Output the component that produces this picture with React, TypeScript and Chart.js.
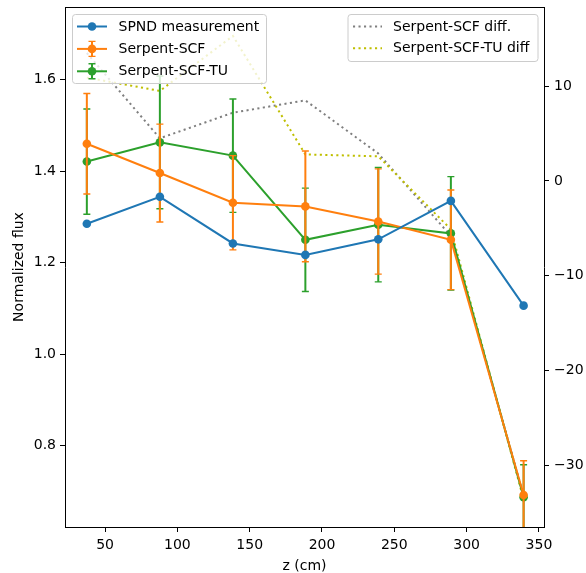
import React, { useEffect, useRef } from "react";
import { Chart, registerables } from "chart.js";

Chart.register(...registerables);

// ---- data ----
const zPositions = [37.4, 87.9, 138.4, 188.5, 238.9, 289.1, 339.4];
const spndMeasurement = [1.285, 1.344, 1.242, 1.217, 1.251, 1.335, 1.106];
const serpentScf = [1.46, 1.396, 1.331, 1.323, 1.29, 1.25, 0.692];
const serpentScfErr = [0.11, 0.107, 0.103, 0.121, 0.115, 0.109, 0.075];
const serpentScfTu = [1.421, 1.463, 1.434, 1.25, 1.283, 1.264, 0.687];
const serpentScfTuErr = [0.115, 0.145, 0.124, 0.113, 0.125, 0.124, 0.071];
const serpentScfDiff = [13.5, 4.5, 7.2, 8.5, 2.9, -5.8, -33.2];
const serpentScfTuDiff = [10.9, 9.5, 15.3, 2.8, 2.6, -5.1, -33.6];

const xTickValues = [50, 100, 150, 200, 250, 300, 350];
const leftTickValues = [0.8, 1.0, 1.2, 1.4, 1.6];
const rightTickValues = [-30, -20, -10, 0, 10];

const xLabel = "z (cm)";
const yLabel = "Normalized flux";

const FONT = "'DejaVu Sans', 'Liberation Sans', sans-serif";

const pts = (ys: number[]) => ys.map((y, i) => ({ x: zPositions[i], y }));

const errorBarPlugin = {
  id: "errorBars",
  beforeDatasetDraw(chart: any, args: any) {
    const ds = chart.data.datasets[args.index];
    if (!ds.errors) return;
    const xs = chart.scales.x;
    const ys = chart.scales[ds.yAxisID || "y"];
    const ctx = chart.ctx;
    const a = chart.chartArea;
    ctx.save();
    ctx.beginPath();
    ctx.rect(a.left, a.top, a.right - a.left, a.bottom - a.top);
    ctx.clip();
    ctx.strokeStyle = ds.borderColor;
    ds.data.forEach((p: any, i: number) => {
      const e = ds.errors[i];
      const px = xs.getPixelForValue(p.x);
      const y1 = ys.getPixelForValue(p.y - e);
      const y2 = ys.getPixelForValue(p.y + e);
      ctx.lineWidth = 2;
      ctx.beginPath();
      ctx.moveTo(px, y1);
      ctx.lineTo(px, y2);
      ctx.stroke();
      ctx.lineWidth = 1.4;
      ctx.beginPath();
      ctx.moveTo(px - 3.5, y1);
      ctx.lineTo(px + 3.5, y1);
      ctx.moveTo(px - 3.5, y2);
      ctx.lineTo(px + 3.5, y2);
      ctx.stroke();
    });
    ctx.restore();
  },
};

function roundRect(ctx: CanvasRenderingContext2D, x: number, y: number, w: number, h: number, r: number) {
  ctx.beginPath();
  ctx.moveTo(x + r, y);
  ctx.lineTo(x + w - r, y);
  ctx.quadraticCurveTo(x + w, y, x + w, y + r);
  ctx.lineTo(x + w, y + h - r);
  ctx.quadraticCurveTo(x + w, y + h, x + w - r, y + h);
  ctx.lineTo(x + r, y + h);
  ctx.quadraticCurveTo(x, y + h, x, y + h - r);
  ctx.lineTo(x, y + r);
  ctx.quadraticCurveTo(x, y, x + r, y);
  ctx.closePath();
}

const frameAndLegendPlugin = {
  id: "frameLegend",
  afterDatasetsDraw(chart: any) {
    const ctx = chart.ctx;
    const a = chart.chartArea;
    ctx.save();
    ctx.strokeStyle = "#000";
    ctx.lineWidth = 1;
    ctx.beginPath();
    ctx.moveTo(a.left, a.top + 0.5);
    ctx.lineTo(a.right, a.top + 0.5);
    ctx.stroke();
    ctx.restore();
  },
  afterDraw(chart: any) {
    const ctx = chart.ctx;
    const a = chart.chartArea;
    const dsets = chart.data.datasets;
    const drawBox = (x: number, y: number, w: number, h: number) => {
      ctx.save();
      roundRect(ctx, x, y, w, h, 3);
      ctx.fillStyle = "rgba(255,255,255,0.8)";
      ctx.fill();
      ctx.strokeStyle = "#cccccc";
      ctx.lineWidth = 1;
      ctx.stroke();
      ctx.restore();
    };
    const rowH = 22.4;
    // left legend
    const left = dsets.filter((d: any) => d.legendGroup === "left");
    const lx = a.left + 7.5;
    const ly = a.top + 7.5;
    drawBox(lx, ly, 194, 69);
    left.forEach((d: any, i: number) => {
      const cy = ly + 12 + i * rowH;
      ctx.save();
      ctx.strokeStyle = d.borderColor;
      ctx.lineWidth = 2;
      ctx.beginPath();
      ctx.moveTo(lx + 4.5, cy);
      ctx.lineTo(lx + 34.5, cy);
      ctx.stroke();
      if (d.errors) {
        ctx.beginPath();
        ctx.moveTo(lx + 19.5, cy - 7.5);
        ctx.lineTo(lx + 19.5, cy + 7.5);
        ctx.stroke();
        ctx.lineWidth = 1.4;
        ctx.beginPath();
        ctx.moveTo(lx + 16, cy - 7.5);
        ctx.lineTo(lx + 23, cy - 7.5);
        ctx.moveTo(lx + 16, cy + 7.5);
        ctx.lineTo(lx + 23, cy + 7.5);
        ctx.stroke();
      }
      ctx.fillStyle = d.borderColor;
      ctx.beginPath();
      ctx.arc(lx + 19.5, cy, 4.3, 0, Math.PI * 2);
      ctx.fill();
      ctx.fillStyle = "#000";
      ctx.font = `14px ${FONT}`;
      ctx.textBaseline = "middle";
      ctx.textAlign = "left";
      ctx.fillText(d.label, lx + 46, cy + 0.5);
      ctx.restore();
    });
    // right legend
    const right = dsets.filter((d: any) => d.legendGroup === "right");
    const rw = 190;
    const rx = a.right - 6 - rw;
    const ry = a.top + 7.5;
    drawBox(rx, ry, rw, 47);
    right.forEach((d: any, i: number) => {
      const cy = ry + 12 + i * 21.8;
      ctx.save();
      ctx.strokeStyle = d.borderColor;
      ctx.lineWidth = 2;
      ctx.setLineDash([2.1, 3.4]);
      ctx.lineCap = "butt";
      ctx.beginPath();
      ctx.moveTo(rx + 5, cy);
      ctx.lineTo(rx + 34, cy);
      ctx.stroke();
      ctx.setLineDash([]);
      ctx.fillStyle = "#000";
      ctx.font = `14px ${FONT}`;
      ctx.textBaseline = "middle";
      ctx.textAlign = "left";
      ctx.fillText(d.label, rx + 45, cy + 0.5);
      ctx.restore();
    });
  },
};

export default function App() {
  const canvasRef = useRef<HTMLCanvasElement | null>(null);

  useEffect(() => {
    if (!canvasRef.current) return;
    const axisCommon = {
      grid: { drawOnChartArea: false, drawTicks: true, tickLength: 5, tickColor: "#000", tickWidth: 1 },
      border: { display: true, color: "#000", width: 1 },
    };
    const chart = new Chart(canvasRef.current, {
      type: "line",
      data: {
        datasets: [
          {
            label: "SPND measurement",
            data: pts(spndMeasurement),
            borderColor: "#1f77b4",
            backgroundColor: "#1f77b4",
            borderWidth: 2,
            pointRadius: 4.3,
            pointBorderWidth: 0,
            yAxisID: "y",
            order: 0,
            legendGroup: "left",
          } as any,
          {
            label: "Serpent-SCF",
            data: pts(serpentScf),
            errors: serpentScfErr,
            borderColor: "#ff7f0e",
            backgroundColor: "#ff7f0e",
            borderWidth: 2,
            pointRadius: 4.3,
            pointBorderWidth: 0,
            yAxisID: "y",
            order: 1,
            legendGroup: "left",
          } as any,
          {
            label: "Serpent-SCF-TU",
            data: pts(serpentScfTu),
            errors: serpentScfTuErr,
            borderColor: "#2ca02c",
            backgroundColor: "#2ca02c",
            borderWidth: 2,
            pointRadius: 4.3,
            pointBorderWidth: 0,
            yAxisID: "y",
            order: 2,
            legendGroup: "left",
          } as any,
          {
            label: "Serpent-SCF diff.",
            data: pts(serpentScfDiff),
            borderColor: "#7f7f7f",
            borderWidth: 2,
            borderDash: [2.1, 3.4],
            pointRadius: 0,
            yAxisID: "y2",
            order: 4,
            legendGroup: "right",
          } as any,
          {
            label: "Serpent-SCF-TU diff",
            data: pts(serpentScfTuDiff),
            borderColor: "#bfbf00",
            borderWidth: 2,
            borderDash: [2.1, 3.4],
            pointRadius: 0,
            yAxisID: "y2",
            order: 3,
            legendGroup: "right",
          } as any,
        ],
      },
      options: {
        animation: false,
        responsive: true,
        maintainAspectRatio: false,
        layout: { padding: { top: 7, left: 0, right: 0, bottom: 0 } },
        font: { family: FONT, size: 14 },
        color: "#000",
        plugins: {
          legend: { display: false },
          tooltip: { enabled: false },
        },
        elements: { line: { tension: 0 } },
        scales: {
          x: {
            type: "linear",
            position: "bottom",
            min: 22.3,
            max: 353.5,
            ...axisCommon,
            ticks: { color: "#000", font: { family: FONT, size: 14 }, padding: 5, maxRotation: 0 },
            title: {
              display: true,
              text: xLabel,
              color: "#000",
              font: { family: FONT, size: 14, lineHeight: 1 },
              padding: { top: 0, bottom: 0 },
            },
            afterBuildTicks: (s: any) => {
              s.ticks = xTickValues.map((v) => ({ value: v }));
            },
            afterFit: (s: any) => {
              s.height = 46;
              s.paddingLeft = 0;
              s.paddingRight = 0;
            },
          } as any,
          y: {
            type: "linear",
            position: "left",
            min: 0.622,
            max: 1.759,
            ...axisCommon,
            ticks: {
              color: "#000",
              font: { family: FONT, size: 14 },
              padding: 4,
              callback: (v: any) => Number(v).toFixed(1),
            },
            title: {
              display: true,
              text: yLabel,
              color: "#000",
              font: { family: FONT, size: 14, lineHeight: 1 },
              padding: { top: 12, bottom: 0 },
            },
            afterBuildTicks: (s: any) => {
              s.ticks = leftTickValues.map((v) => ({ value: v }));
            },
            afterFit: (s: any) => {
              s.width = 65;
              s.paddingTop = 0;
              s.paddingBottom = 0;
            },
          } as any,
          y2: {
            type: "linear",
            position: "right",
            min: -36.5,
            max: 18.35,
            ...axisCommon,
            ticks: {
              color: "#000",
              font: { family: FONT, size: 14 },
              padding: 5,
              callback: (v: any) => String(v).replace("-", "\u2212"),
            },
            afterBuildTicks: (s: any) => {
              s.ticks = rightTickValues.map((v) => ({ value: v }));
            },
            afterFit: (s: any) => {
              s.width = 42;
              s.paddingTop = 0;
              s.paddingBottom = 0;
            },
          } as any,
        },
      } as any,
      plugins: [errorBarPlugin, frameAndLegendPlugin],
    });
    return () => chart.destroy();
  }, []);

  return (
    <div style={{ position: "fixed", left: 0, top: 0, width: 586, height: 573, background: "#fff" }}>
      <canvas ref={canvasRef} />
    </div>
  );
}
